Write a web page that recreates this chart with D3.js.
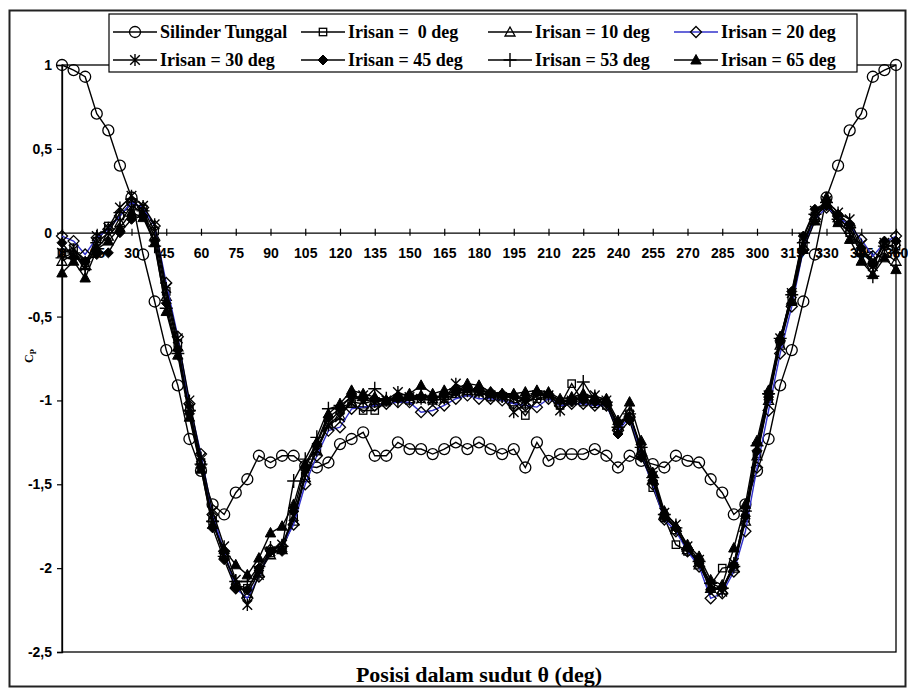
<!DOCTYPE html>
<html><head><meta charset="utf-8">
<script src="https://cdn.jsdelivr.net/npm/d3@7"></script>
<style>
body{margin:0;background:#fff;}
svg{display:block;}
.tick text{font-family:"Liberation Sans",Arial,sans-serif;font-weight:bold;font-size:14px;fill:#000;}
</style></head>
<body><svg id="c" width="908" height="688"></svg>
<script>
const angles = [0,5,10,15,20,25,30,35,40,45,50,55,60,65,70,75,80,85,90,95,100,105,110,115,120,125,130,135,140,145,150,155,160,165,170,175,180,185,190,195,200,205,210,215,220,225,230,235,240,245,250,255,260,265,270,275,280,285,290,295,300,305,310,315,320,325,330,335,340,345,350,355,360];

const silinder = [1.00,0.97,0.93,0.71,0.61,0.40,0.21,-0.13,-0.41,-0.70,-0.91,-1.23,-1.42,-1.62,-1.68,-1.55,-1.47,-1.33,-1.37,-1.33,-1.33,-1.39,-1.40,-1.37,-1.26,-1.23,-1.19,-1.33,-1.33,-1.25,-1.29,-1.29,-1.32,-1.29,-1.25,-1.29,-1.25,-1.29,-1.32,-1.29,-1.40,-1.25,-1.36,-1.32,-1.32,-1.32,-1.29,-1.33,-1.40,-1.33,-1.36,-1.38,-1.40,-1.33,-1.36,-1.37,-1.47,-1.55,-1.68,-1.62,-1.42,-1.23,-0.91,-0.70,-0.41,-0.13,0.21,0.40,0.61,0.71,0.93,0.97,1.00];

const irisan0 = [-0.12,-0.09,-0.18,-0.05,0.04,0.10,0.18,0.14,0.01,-0.35,-0.66,-1.05,-1.37,-1.72,-1.92,-2.10,-2.12,-2.02,-1.91,-1.88,-1.70,-1.45,-1.29,-1.13,-1.06,-1.02,-1.06,-1.06,-1.01,-0.99,-1.00,-0.99,-1.00,-0.99,-0.96,-0.95,-0.95,-0.98,-0.98,-1.01,-1.09,-0.99,-0.97,-1.03,-0.90,-1.01,-1.02,-1.03,-1.17,-1.08,-1.30,-1.52,-1.70,-1.86,-1.90,-1.97,-2.10,-2.00,-1.99,-1.70,-1.32,-0.99,-0.66,-0.38,-0.06,0.10,0.16,0.07,0.00,-0.12,-0.18,-0.07,-0.08];
const irisan10 = [-0.17,-0.13,-0.19,-0.09,-0.02,0.06,0.16,0.12,-0.02,-0.38,-0.68,-1.04,-1.36,-1.70,-1.92,-2.09,-2.15,-2.03,-1.92,-1.89,-1.72,-1.46,-1.30,-1.14,-1.09,-1.01,-1.02,-1.00,-1.00,-0.98,-0.99,-0.97,-0.99,-0.97,-0.96,-0.94,-0.94,-0.96,-0.97,-0.99,-1.02,-0.97,-0.96,-1.01,-0.99,-0.97,-0.99,-1.00,-1.15,-1.07,-1.31,-1.47,-1.68,-1.77,-1.89,-1.98,-2.12,-2.13,-2.00,-1.72,-1.33,-1.00,-0.67,-0.40,-0.08,0.09,0.17,0.09,0.02,-0.10,-0.16,-0.12,-0.17];
const irisan20 = [-0.02,-0.05,-0.13,-0.03,0.02,0.10,0.18,0.15,0.04,-0.30,-0.62,-1.02,-1.32,-1.68,-1.90,-2.12,-2.18,-2.05,-1.89,-1.87,-1.74,-1.50,-1.33,-1.18,-1.16,-1.05,-1.04,-1.03,-1.02,-1.01,-1.01,-1.07,-1.06,-1.03,-0.99,-0.97,-0.99,-0.99,-1.00,-1.02,-1.03,-1.04,-0.99,-1.03,-1.02,-1.02,-1.03,-1.03,-1.18,-1.10,-1.33,-1.50,-1.71,-1.78,-1.90,-1.99,-2.18,-2.15,-2.02,-1.78,-1.40,-1.06,-0.72,-0.44,-0.10,0.08,0.15,0.10,0.04,-0.04,-0.14,-0.06,-0.02];
const irisan30 = [-0.12,-0.10,-0.20,-0.02,0.03,0.15,0.22,0.16,0.05,-0.33,-0.63,-1.00,-1.34,-1.66,-1.87,-2.07,-2.22,-2.04,-1.90,-1.86,-1.69,-1.44,-1.30,-1.15,-1.10,-1.00,-0.97,-1.01,-1.00,-0.95,-0.98,-0.99,-1.00,-0.99,-0.90,-0.94,-0.95,-0.97,-0.98,-1.07,-1.02,-0.97,-0.97,-1.06,-1.00,-0.99,-0.97,-1.00,-1.14,-1.09,-1.29,-1.45,-1.67,-1.74,-1.87,-1.95,-2.10,-2.14,-1.97,-1.68,-1.28,-0.97,-0.63,-0.36,-0.03,0.13,0.19,0.12,0.08,-0.07,-0.20,-0.06,-0.10];
const irisan45 = [-0.06,-0.15,-0.17,-0.13,-0.12,0.00,0.08,0.10,-0.05,-0.42,-0.70,-1.08,-1.40,-1.76,-1.95,-2.12,-2.13,-2.00,-1.90,-1.90,-1.66,-1.40,-1.26,-1.10,-1.05,-0.97,-0.99,-0.99,-1.00,-0.99,-0.97,-0.98,-0.99,-0.96,-0.95,-0.93,-0.94,-0.95,-0.96,-0.97,-0.99,-0.95,-0.96,-1.00,-1.01,-1.00,-1.01,-1.02,-1.20,-1.12,-1.34,-1.48,-1.70,-1.76,-1.88,-1.97,-2.13,-2.12,-1.98,-1.69,-1.30,-0.98,-0.65,-0.35,-0.02,0.14,0.16,0.11,0.05,-0.09,-0.19,-0.05,-0.05];
const irisan53 = [-0.15,-0.12,-0.22,-0.06,0.00,0.12,0.20,0.13,-0.08,-0.45,-0.72,-1.06,-1.38,-1.72,-1.93,-2.08,-2.08,-1.99,-1.88,-1.87,-1.48,-1.35,-1.22,-1.05,-1.03,-0.98,-1.00,-0.93,-0.99,-1.00,-0.99,-0.97,-0.98,-0.98,-0.93,-0.94,-0.93,-0.96,-0.97,-0.98,-1.00,-0.96,-0.97,-1.02,-0.99,-0.89,-1.00,-1.01,-1.16,-1.08,-1.28,-1.46,-1.68,-1.76,-1.89,-1.96,-2.09,-2.12,-1.99,-1.66,-1.27,-0.96,-0.63,-0.37,-0.06,0.11,0.18,0.08,0.03,-0.13,-0.26,-0.08,-0.12];
const irisan65 = [-0.24,-0.17,-0.27,-0.10,-0.05,0.03,0.12,0.09,-0.06,-0.47,-0.73,-1.10,-1.41,-1.74,-1.89,-1.98,-2.04,-1.94,-1.79,-1.75,-1.62,-1.38,-1.25,-1.08,-1.02,-0.94,-0.96,-0.98,-1.00,-0.97,-0.96,-0.91,-0.96,-0.94,-0.93,-0.90,-0.91,-0.95,-0.96,-0.96,-0.95,-0.94,-0.95,-0.99,-0.98,-0.96,-0.98,-0.99,-1.12,-1.01,-1.24,-1.43,-1.66,-1.75,-1.86,-1.93,-2.07,-2.10,-1.88,-1.62,-1.24,-0.94,-0.62,-0.41,-0.10,0.07,0.21,0.06,-0.04,-0.17,-0.25,-0.15,-0.22];

const seriesNames = ["Silinder Tunggal","Irisan =  0 deg","Irisan = 10 deg","Irisan = 20 deg","Irisan = 30 deg","Irisan = 45 deg","Irisan = 53 deg","Irisan = 65 deg"];
const seriesValues = [silinder, irisan0, irisan10, irisan20, irisan30, irisan45, irisan53, irisan65];
const xTicks = [0,15,30,45,60,75,90,105,120,135,150,165,180,195,210,225,240,255,270,285,300,315,330,345,360];
const yTicks = [1,0.5,0,-0.5,-1,-1.5,-2,-2.5];

const styles = [
  {shape:"circle", line:"#000"},
  {shape:"square", line:"#000"},
  {shape:"triangle", line:"#000"},
  {shape:"diamond", line:"#3333cc"},
  {shape:"star", line:"#000"},
  {shape:"fdiamond", line:"#000"},
  {shape:"plus", line:"#000"},
  {shape:"ftriangle", line:"#000"}
];

const svg = d3.select("#c");
const L=62, R=896, T=65, B=652;
const x = d3.scaleLinear().domain([0,360]).range([L,R]);
const y = d3.scaleLinear().domain([-2.5,1]).range([B,T]);

// outer border
svg.append("rect").attr("x",9.5).attr("y",10.5).attr("width",896).attr("height",676)
  .attr("fill","#fff").attr("stroke","#222").attr("stroke-width",2);

// plot border
svg.append("rect").attr("x",L).attr("y",T).attr("width",R-L).attr("height",B-T)
  .attr("fill","none").attr("stroke","#000").attr("stroke-width",1.3);

// y axis
const yAxis = svg.append("g").attr("transform",`translate(${L},0)`)
  .call(d3.axisLeft(y).tickValues(yTicks).tickSize(5).tickPadding(5)
    .tickFormat(d=>String(d).replace(".",",")));
yAxis.select(".domain").attr("stroke","#000").attr("stroke-width",1.3);
yAxis.selectAll(".tick line").attr("stroke","#000").attr("stroke-width",1.2);

// x axis at y=0
const y0 = y(0);
const xAxis = svg.append("g").attr("transform",`translate(0,${y0})`)
  .call(d3.axisBottom(x).tickValues(xTicks).tickSizeInner(-4).tickSizeOuter(0).tickPadding(15)
    .tickFormat(d=>String(d)));
xAxis.select(".domain").attr("stroke","#000").attr("stroke-width",1.3);
xAxis.selectAll(".tick line").attr("stroke","#000").attr("stroke-width",1.2).attr("y1",3).attr("y2",-4);

// marker drawing
function marker(g, shape, cx, cy){
  const t = `translate(${cx},${cy})`;
  switch(shape){
    case "circle": g.append("circle").attr("cx",cx).attr("cy",cy).attr("r",5.5).attr("fill","none").attr("stroke","#000").attr("stroke-width",1.3); break;
    case "square": g.append("rect").attr("x",cx-3.7).attr("y",cy-3.7).attr("width",7.4).attr("height",7.4).attr("fill","none").attr("stroke","#000").attr("stroke-width",1.3); break;
    case "triangle": g.append("path").attr("transform",t).attr("d","M0,-5L5,4L-5,4Z").attr("fill","none").attr("stroke","#000").attr("stroke-width",1.3); break;
    case "diamond": g.append("path").attr("transform",t).attr("d","M0,-5.5L5.5,0L0,5.5L-5.5,0Z").attr("fill","none").attr("stroke","#000").attr("stroke-width",1.3); break;
    case "star": g.append("path").attr("transform",t).attr("d","M-4.8,-4.8L4.8,4.8M-4.8,4.8L4.8,-4.8M0,-6V6").attr("fill","none").attr("stroke","#000").attr("stroke-width",1.4); break;
    case "fdiamond": g.append("path").attr("transform",t).attr("d","M0,-5L5,0L0,5L-5,0Z").attr("fill","#000").attr("stroke","#000"); break;
    case "plus": g.append("path").attr("transform",t).attr("d","M-6.5,0H6.5M0,-7V7").attr("fill","none").attr("stroke","#000").attr("stroke-width",1.4); break;
    case "ftriangle": g.append("path").attr("transform",t).attr("d","M0,-5.5L5.2,4L-5.2,4Z").attr("fill","#000").attr("stroke","#000"); break;
  }
}

const line = d3.line().x((d,i)=>x(angles[i])).y(d=>y(d));
seriesValues.forEach((vals,si)=>{
  const g = svg.append("g");
  g.append("path").attr("d",line(vals)).attr("fill","none")
    .attr("stroke",styles[si].line).attr("stroke-width",1.4);
  vals.forEach((v,i)=>marker(g, styles[si].shape, x(angles[i]), y(v)));
});

// legend
const lg = svg.append("g");
lg.append("rect").attr("x",109).attr("y",14).attr("width",748).attr("height",58)
  .attr("fill","#fff").attr("stroke","#000").attr("stroke-width",1.2);
const colX = [135,323,510,696];
const rowY = [32,60];
seriesNames.forEach((name,i)=>{
  const cx = colX[i%4], cy = rowY[Math.floor(i/4)];
  lg.append("line").attr("x1",cx-22).attr("x2",cx+22).attr("y1",cy).attr("y2",cy)
    .attr("stroke",styles[i].line).attr("stroke-width",1.4);
  marker(lg, styles[i].shape, cx, cy);
  lg.append("text").attr("x",cx+25).attr("y",cy+6)
    .attr("font-family","'Liberation Serif','Times New Roman',serif").attr("font-weight","bold")
    .attr("font-size",18).attr("fill","#000").style("white-space","pre").text(name);
});

// axis titles
svg.append("text").attr("x",479).attr("y",682).attr("text-anchor","middle")
  .attr("font-family","'Liberation Serif','Times New Roman',serif").attr("font-weight","bold")
  .attr("font-size",22).attr("fill","#000").text("Posisi dalam sudut θ (deg)");

const yt = svg.append("text").attr("transform","translate(33,356) rotate(-90)")
  .attr("text-anchor","middle")
  .attr("font-family","'Liberation Serif','Times New Roman',serif").attr("font-weight","bold")
  .attr("font-size",12).attr("fill","#000");
yt.append("tspan").text("C");
yt.append("tspan").attr("font-size",9).attr("dy",3).text("P");
</script></body></html>
